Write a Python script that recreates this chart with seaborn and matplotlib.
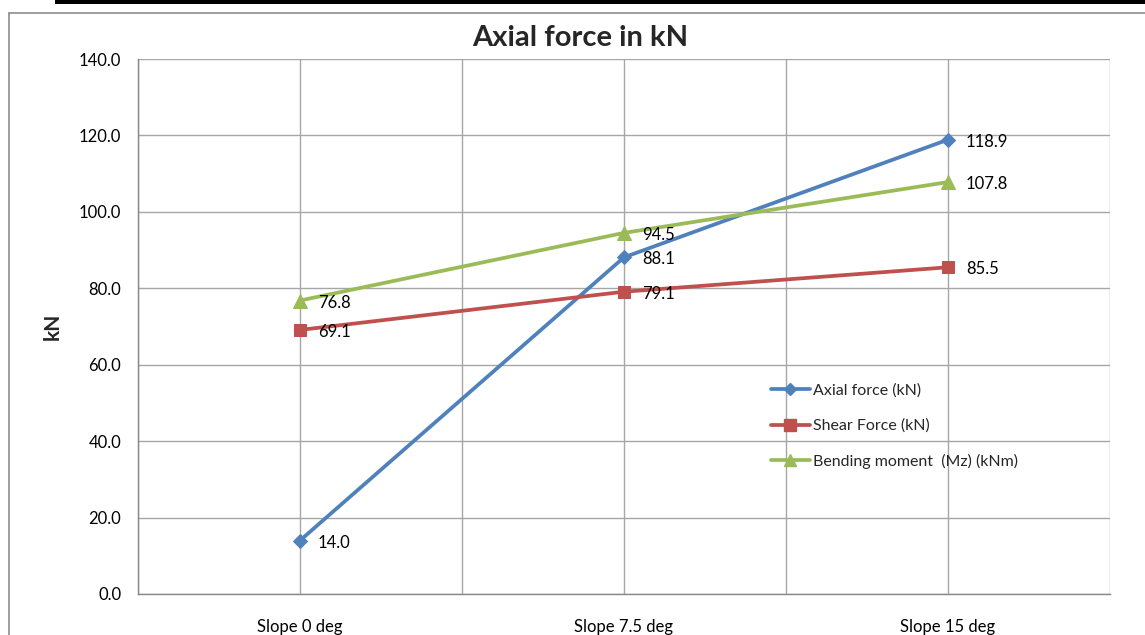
import matplotlib
matplotlib.use("Agg")
import matplotlib.pyplot as plt
from matplotlib.lines import Line2D
from matplotlib.patches import Rectangle
import seaborn as sns
import pandas as pd

# Values per slope case
categories = ["Slope 0 deg", "Slope 7.5 deg", "Slope 15 deg"]
axial_force = [14.0, 88.1, 118.9]
shear_force = [69.1, 79.1, 85.5]
bending_moment = [76.8, 94.5, 107.8]
series_names = ["Axial force (kN)", "Shear Force (kN)", "Bending moment  (Mz) (kNm)"]
y_ticks = [0, 20, 40, 60, 80, 100, 120, 140]

colors = ["#4F81BD", "#C0504D", "#9BBB59"]
markers = ["D", "s", "^"]
marker_sizes = [7, 9, 10]

sns.set_theme(style="white")
plt.rcParams["font.family"] = ["Lato", "DejaVu Sans"]

frames = []
for name, vals in zip(series_names, [axial_force, shear_force, bending_moment]):
    frames.append(pd.DataFrame({"case": categories, "value": vals, "series": name}))
df = pd.concat(frames, ignore_index=True)

fig = plt.figure(figsize=(11.45, 6.35), dpi=100)
ax = fig.add_axes([138 / 1145, 41 / 635, 972 / 1145, 535 / 635])

for name, col, mk, ms in zip(series_names, colors, markers, marker_sizes):
    sub = df[df["series"] == name]
    sns.lineplot(data=sub, x="case", y="value", ax=ax, color=col, marker=mk,
                 markersize=ms, markeredgecolor=col, linewidth=2.7,
                 sort=False, legend=False, zorder=3)
    for i, v in enumerate(sub["value"]):
        ax.annotate(f"{v:.1f}", (i, v), xytext=(18, -2), textcoords="offset pixels",
                    fontsize=12, color="black", ha="left", va="center")

ax.set_xlim(-0.5, 2.5)
ax.set_ylim(0, 140)
ax.set_yticks(y_ticks)
ax.set_yticklabels([f"{t:.1f}" for t in y_ticks])
ax.set_xticks(range(len(categories)))
ax.set_xticklabels(categories)
ax.set_xticks([-0.5, 0.5, 1.5, 2.5], minor=True)
ax.grid(True, which="both", color="#A6A6A6", linewidth=1.0)
ax.set_axisbelow(True)
ax.tick_params(axis="both", which="both", length=0, labelsize=12, colors="black")
ax.tick_params(axis="x", pad=18)
ax.tick_params(axis="y", pad=12)
ax.set_xlabel("")
ax.set_ylabel("kN", fontsize=15, fontweight="bold", labelpad=12)
for s in ["top", "right"]:
    ax.spines[s].set_visible(False)
for s in ["left", "bottom"]:
    ax.spines[s].set_color("#888888")
    ax.spines[s].set_linewidth(1.0)

handles = [Line2D([0], [0], color=c, marker=m, markersize=ms * 0.9, linewidth=2.7,
                  markeredgecolor=c)
           for c, m, ms in zip(colors, markers, marker_sizes)]
ax.legend(handles, series_names, loc="upper left", bbox_to_anchor=(0.645, 0.405),
          frameon=False, fontsize=11.5, handlelength=2.4, handletextpad=0.2,
          labelspacing=1.3, borderaxespad=0)

fig.text(580 / 1145, 1 - 38 / 635, "Axial force in kN", ha="center", va="center",
         fontsize=21, fontweight="bold")

# Chart frame and top rule
fig.add_artist(Line2D([9 / 1145, 9 / 1145], [0, 1 - 13 / 635], transform=fig.transFigure,
                      color="#8C8C8C", linewidth=1.2))
fig.add_artist(Line2D([9 / 1145, 1], [1 - 13 / 635, 1 - 13 / 635], transform=fig.transFigure,
                      color="#8C8C8C", linewidth=1.2))
fig.add_artist(Rectangle((55 / 1145, 1 - 4 / 635), 1, 4 / 635, transform=fig.transFigure,
                         color="black", linewidth=0))

fig.savefig("out.png", dpi=100)
